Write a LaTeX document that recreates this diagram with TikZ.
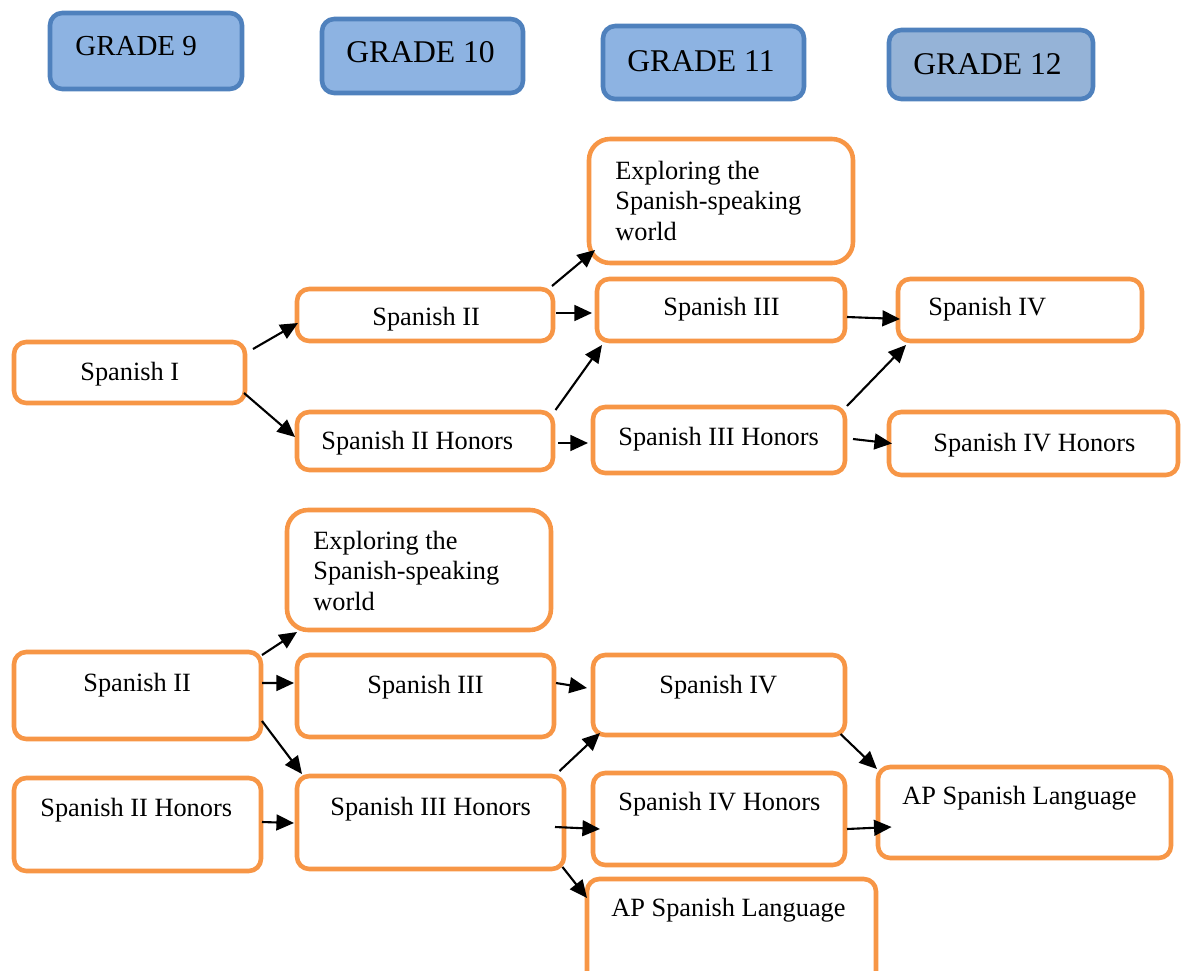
\documentclass[tikz,border=0pt]{standalone}
\usepackage{fontspec}
\setmainfont{Liberation Serif}
\usetikzlibrary{fit,arrows.meta}
\definecolor{orng}{HTML}{F79646}
\definecolor{gblue}{HTML}{8DB3E2}
\definecolor{gblue2}{HTML}{95B3D7}
\definecolor{bdr}{HTML}{4F81BD}
\tikzset{
  obox/.style={draw=orng, line width=2.6pt, rounded corners=7pt, fill=white, inner sep=0pt, outer sep=0pt},
  ebox/.style={obox, rounded corners=12pt},
  gbox/.style={draw=bdr, line width=2.6pt, rounded corners=7pt, fill=gblue, inner sep=0pt, outer sep=0pt},
  lbl/.style={inner sep=0pt, anchor=base west, font=\fontsize{15}{17.3}\selectfont},
  glbl/.style={inner sep=0pt, anchor=base west, font=\fontsize{18}{20}\selectfont},
  arr/.style={line width=1.2pt, -{Triangle[length=10pt,width=9pt]}}
}
\begin{document}
\begin{tikzpicture}[x=0.02cm,y=-0.02cm]
\useasboundingbox (0,0) rectangle (1181,971);
% grade boxes
\node[gbox, fit={(50,13) (242,89)}] (g9) {};
\node[gbox, fit={(322,19) (523,93)}] (g10) {};
\node[gbox, fit={(603,26) (804,99)}] (g11) {};
\node[gbox, fill=gblue2, fit={(889,30) (1093,99)}] (g12) {};
\node[glbl, font=\fontsize{16.5}{18}\selectfont] (tg9) at (75,55) {GRADE 9};
\node[glbl] (tg10) at (346,62) {GRADE 10};
\node[glbl] (tg11) at (627,71) {GRADE 11};
\node[glbl] (tg12) at (913,74) {GRADE 12};
% top section boxes
\node[ebox, fit={(589,139) (853,263)}] (e1) {};
\node[obox, fit={(297,289) (553,341)}] (s2) {};
\node[obox, fit={(597,279) (845,341)}] (s3) {};
\node[obox, fit={(898,279) (1142,341)}] (s4) {};
\node[obox, fit={(14,342) (245,403)}] (s1) {};
\node[obox, fit={(297,412) (553,470)}] (s2h) {};
\node[obox, fit={(593,407) (845,473)}] (s3h) {};
\node[obox, fit={(889,412) (1178,475)}] (s4h) {};
\node[lbl, align=left] (te1) at (615,240) {Exploring the\\Spanish-speaking\\world};
\node[lbl] (ts1) at (80,380) {Spanish I};
\node[lbl] (ts2) at (372,325) {Spanish II};
\node[lbl] (ts2h) at (321,449) {Spanish II Honors};
\node[lbl] (ts3) at (663,315) {Spanish III};
\node[lbl] (ts3h) at (618,445) {Spanish III Honors};
\node[lbl] (ts4) at (928,315) {Spanish IV};
\node[lbl] (ts4h) at (933,451) {Spanish IV Honors};
% top arrows
\draw[arr] ([shift={(8,7)}]s1.north east) -- ([shift={(1,-18)}]s2.south west);
\draw[arr] ([shift={(-1,-10)}]s1.south east) -- ([shift={(-2,25)}]s2h.north west);
\draw[arr] ([shift={(-1,-3)}]s2.north east) -- ([shift={(6,-13)}]e1.south west);
\draw[arr] ([shift={(3,-2)}]s2.east) -- ([shift={(-5,3)}]s3.west);
\draw[arr] ([shift={(2.5,-2)}]s2h.north east) -- ([shift={(5,4)}]s3.south west);
\draw[arr] ([shift={(5,2)}]s2h.east) -- ([shift={(-5,3)}]s3h.west);
\draw[arr] ([shift={(2,7)}]s3.east) -- ([shift={(2,9)}]s4.west);
\draw[arr] ([shift={(2,-1)}]s3h.north east) -- ([shift={(8,4)}]s4.south west);
\draw[arr] ([shift={(8,-1)}]s3h.east) -- ([shift={(3,0)}]s4h.west);
% bottom section boxes
\node[ebox, fit={(287,510) (551,630)}] (e2) {};
\node[obox, fit={(14,652) (261,739)}] (b2) {};
\node[obox, fit={(297,655) (554,737)}] (b3) {};
\node[obox, fit={(14,778) (261,871)}] (b2h) {};
\node[obox, fit={(297,776) (564,869)}] (b3h) {};
\node[obox, fit={(593,655) (845,735)}] (b4) {};
\node[obox, fit={(593,773) (845,865)}] (b4h) {};
\node[obox, fit={(878,767) (1171,858)}] (ap1) {};
\node[obox, fit={(587,879) (876,990)}] (ap2) {};
\node[lbl, align=left] (te2) at (313,610) {Exploring the\\Spanish-speaking\\world};
\node[lbl] (tb2) at (83,691) {Spanish II};
\node[lbl] (tb3) at (367,693) {Spanish III};
\node[lbl] (tb2h) at (40,816) {Spanish II Honors};
\node[lbl] (tb3h) at (330,815) {Spanish III Honors};
\node[lbl] (tb4) at (659,693) {Spanish IV};
\node[lbl] (tb4h) at (618,810) {Spanish IV Honors};
\node[lbl] (tap1) at (902,804) {AP Spanish Language};
\node[lbl] (tap2) at (611,916) {AP Spanish Language};
% bottom arrows
\draw[arr] ([shift={(1,3)}]b2.north east) -- ([shift={(10,2)}]e2.south west);
\draw[arr] ([shift={(1,-12.5)}]b2.east) -- ([shift={(-3,-13)}]b3.west);
\draw[arr] ([shift={(1,-18)}]b2.south east) -- ([shift={(5,-2)}]b3h.north west);
\draw[arr] ([shift={(1,-2.5)}]b2h.east) -- ([shift={(-3,0.5)}]b3h.west);
\draw[arr] ([shift={(2,-13)}]b3.east) -- ([shift={(-6,-7)}]b4.west);
\draw[arr] ([shift={(-4.5,-5)}]b3h.north east) -- ([shift={(7,-2)}]b4.south west);
\draw[arr] ([shift={(-9,4.5)}]b3h.east) -- ([shift={(7,10)}]b4h.west);
\draw[arr] ([shift={(-1.5,-2)}]b3h.south east) -- ([shift={(0,19)}]ap2.north west);
\draw[arr] ([shift={(-4.5,-1)}]b4.south east) -- ([shift={(-1,2)}]ap1.north west);
\draw[arr] ([shift={(2,10)}]b4h.east) -- ([shift={(13.6,14.5)}]ap1.west);
\end{tikzpicture}
\end{document}
